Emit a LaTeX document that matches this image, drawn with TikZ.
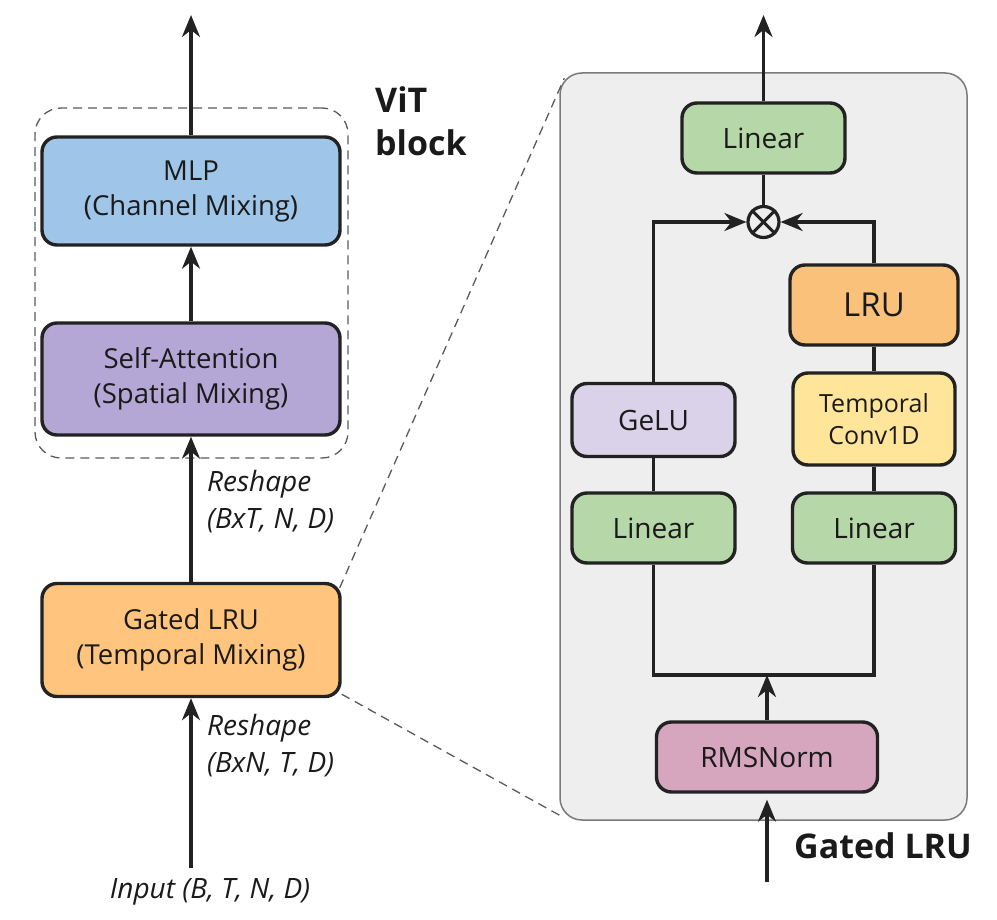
\documentclass[tikz,border=0pt]{standalone}
\usepackage{fontspec}
\setmainfont{Open Sans}
\usetikzlibrary{arrows.meta}
\definecolor{linec}{HTML}{222222}
\definecolor{mlpc}{HTML}{9FC5E8}
\definecolor{sac}{HTML}{B4A7D6}
\definecolor{glruc}{HTML}{FFC57E}
\definecolor{linc}{HTML}{B6D7A8}
\definecolor{lruc}{HTML}{F9C17A}
\definecolor{convc}{HTML}{FFE599}
\definecolor{geluc}{HTML}{D9D2E9}
\definecolor{rmsc}{HTML}{D5A6BD}
\definecolor{panelc}{HTML}{EEEEEE}
\definecolor{panelb}{HTML}{7A7A7A}
\definecolor{dashc}{HTML}{5A5A5A}
\definecolor{txtc}{HTML}{1A1A1A}
\begin{document}
\begin{tikzpicture}[x=1pt,y=-1pt,
  box/.style={draw=linec, line width=3.4pt, rounded corners=15pt, align=center,
    inner sep=0pt, text=txtc},
  lbox/.style={box, font=\fontsize{27.5}{35}\selectfont, minimum width=298pt},
  rbox/.style={box, font=\fontsize{28}{35}\selectfont, minimum width=163pt, minimum height=70pt},
  arr/.style={draw=linec, line width=3.4pt, -{Stealth[length=22pt,width=18pt,inset=7pt]}},
  conn/.style={draw=linec, line width=3.4pt},
  dashline/.style={draw=dashc, line width=1.3pt, dash pattern=on 9pt off 6pt},
  lbl/.style={text=txtc, inner sep=0pt},
  itl/.style={lbl, font=\itshape\fontsize{28}{37}\selectfont}
]
\useasboundingbox (0,0) rectangle (997,920);

% ---------- left column ----------
\node[draw=dashc, line width=1.3pt, dash pattern=on 9pt off 6pt, rounded corners=26pt,
      minimum width=313pt, minimum height=350pt] (vit) at (191.5,283) {};
\node[lbox, fill=mlpc, minimum height=108pt] (mlp) at (191,191) {MLP\\(Channel Mixing)};
\node[lbox, fill=sac, minimum height=112pt] (sa) at (191,379) {Self-Attention\\(Spatial Mixing)};
\node[lbox, fill=glruc, minimum height=113pt] (glru) at (191,640) {Gated LRU\\(Temporal Mixing)};

\node[lbl, anchor=north west, align=left, font=\bfseries\fontsize{34}{43}\selectfont] (vitlbl) at (375,86) {ViT\\block};

\node[itl, anchor=west, align=left] (resh1) at (207,502) {Reshape\\(BxT, N, D)};
\node[itl, anchor=west, align=left] (resh2) at (207,746) {Reshape\\(BxN, T, D)};
\node[itl] (inlbl) at (210,892) {Input (B, T, N, D)};

\coordinate (topL) at (191,15);
\coordinate (inL) at (191,868);
\draw[arr] (mlp.north) -- (topL);
\draw[arr] (sa.north) -- (mlp.south);
\draw[arr] (glru.north) -- (sa.south);
\draw[arr] (inL) -- (glru.south);

% ---------- right panel ----------
\node[draw=panelb, fill=panelc, line width=1.5pt, rounded corners=22pt,
      minimum width=407pt, minimum height=747pt] (panel) at (763.5,446.5) {};

\draw[dashline] ([shift={(-2,6)}]glru.north east) -- ([shift={(5,6)}]panel.north west);
\draw[dashline] ([shift={(0,-4)}]glru.south east) -- ([shift={(3,-4)}]panel.south west);

\node[rbox, fill=linc] (lin0) at (763.5,138) {Linear};
\node[circle, draw=linec, line width=3.2pt, fill=panelc, minimum size=31pt, inner sep=0pt] (mul) at (763.5,222) {};
\draw[conn, line width=3pt] (mul.north east) -- (mul.south west);
\draw[conn, line width=3pt] (mul.north west) -- (mul.south east);

\node[box, fill=lruc, font=\fontsize{33}{40}\selectfont, minimum width=168pt, minimum height=80pt] (lru) at (874,305) {LRU};
\node[box, fill=convc, font=\fontsize{25}{32}\selectfont, minimum width=162pt, minimum height=92pt] (conv) at (874,419) {Temporal\\Conv1D};
\node[rbox, fill=geluc, minimum height=73pt] (gelu) at (653.5,420) {GeLU};
\node[rbox, fill=linc] (linL) at (653.5,528) {Linear};
\node[rbox, fill=linc] (linR) at (874,528) {Linear};
\node[box, fill=rmsc, font=\fontsize{28}{35}\selectfont, minimum width=221pt, minimum height=70pt] (rms) at (767,757) {RMSNorm};

\node[lbl, anchor=west, font=\bfseries\fontsize{34}{36}\selectfont] (glrulbl) at (794,846) {Gated LRU};

\coordinate (topR) at (763.5,15);
\coordinate (join) at (767,675);
\coordinate (inR) at (767,882);

\draw[arr] (lin0.north) -- (topR);
\draw[conn] (lin0.south) -- (mul.north);
\draw[arr] (gelu.north) |- (mul.west);
\draw[arr] (lru.north) |- (mul.east);
\draw[conn] (lru.south) -- (conv.north);
\draw[conn] (conv.south) -- (linR.north);
\draw[conn] (gelu.south) -- (linL.north);
\draw[conn, line join=miter] (linL.south) |- (join) -| (linR.south);
\draw[arr] (rms.north) -- (join);
\draw[arr, shorten >=6pt] (inR) -- (rms.south);
\end{tikzpicture}
\end{document}
